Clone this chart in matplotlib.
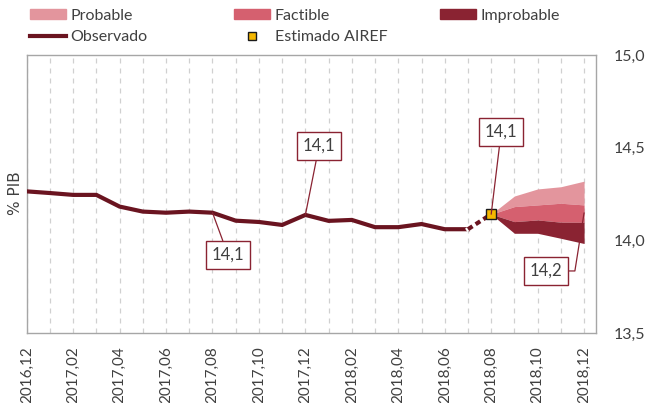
import numpy as np
import matplotlib
matplotlib.use('Agg')
import matplotlib.pyplot as plt
from matplotlib.patches import Patch
from matplotlib.lines import Line2D

plt.rcParams['font.family'] = ['Lato', 'DejaVu Sans']

## data
months = ['2016,12', '2017,01', '2017,02', '2017,03', '2017,04', '2017,05',
          '2017,06', '2017,07', '2017,08', '2017,09', '2017,10', '2017,11',
          '2017,12', '2018,01', '2018,02', '2018,03', '2018,04', '2018,05',
          '2018,06', '2018,07', '2018,08', '2018,09', '2018,10', '2018,11',
          '2018,12']
observado = [14.265, 14.256, 14.246, 14.246, 14.183, 14.156, 14.150, 14.156,
             14.150, 14.107, 14.100, 14.084, 14.138, 14.106, 14.111, 14.072,
             14.072, 14.089, 14.061, 14.061]
estimado = 14.142  # 2018,08
# fan bands, 2018,08 .. 2018,12 (boundaries from top to bottom)
fan_top = [14.142, 14.240, 14.278, 14.290, 14.320]
fan_b1 = [14.142, 14.183, 14.192, 14.201, 14.192]
fan_b2 = [14.142, 14.102, 14.111, 14.099, 14.098]
fan_bot = [14.142, 14.039, 14.039, 14.012, 13.984]
yticks = [13.5, 14.0, 14.5, 15.0]
ytick_labels = ['13,5', '14,0', '14,5', '15,0']

c_prob = '#E3959D'
c_fact = '#D5606F'
c_impr = '#8A2332'
c_obs = '#6A1420'
c_txt = '#404040'

fig = plt.figure(figsize=(6.46, 4.03), dpi=100)
ax = fig.add_axes([26.7/646, 1-333.3/403, (595.7-26.7)/646, (333.3-55)/403])

x = np.arange(len(months))
n_obs = len(observado)
xf = x[n_obs:n_obs+len(fan_top)]
xf = np.arange(n_obs, n_obs+len(fan_top)) - 0  # starts at 2018,08
xf = np.arange(len(months)-len(fan_top), len(months))

ax.fill_between(xf, fan_b1, fan_top, color=c_prob, lw=0, zorder=2)
ax.fill_between(xf, fan_b2, fan_b1, color=c_fact, lw=0, zorder=2)
ax.fill_between(xf, fan_bot, fan_b2, color=c_impr, lw=0, zorder=2)

ax.plot(x[:n_obs], observado, color=c_obs, lw=3, solid_joinstyle='miter', zorder=3)
# dotted link to estimate
ax.plot([n_obs-1, xf[0]], [observado[-1], estimado], color='white', lw=3, zorder=3)
ax.plot([n_obs-1, xf[0]], [observado[-1], estimado], color=c_obs, lw=3,
        dashes=(1.3, 0.9), zorder=3)
ax.plot([xf[0]], [estimado], marker='s', ms=7, mfc='#F5B700', mec='#1a1a1a',
        mew=1, ls='none', zorder=6)

ax.set_xlim(0, 24.5)
ax.set_ylim(13.5, 15.0)
ax.set_xticks(x[::2])
ax.set_xticklabels(months[::2], rotation=90, fontsize=11, color=c_txt)
ax.set_xticks(x, minor=True)
ax.tick_params(axis='x', which='both', length=0, pad=9)
ax.yaxis.tick_right()
ax.set_yticks(yticks)
ax.set_yticklabels(ytick_labels, fontsize=11.5, color=c_txt)
ax.tick_params(axis='y', length=0, pad=13)
ax.grid(axis='x', which='both', ls=(0, (4, 4)), color='#D0D0D0', lw=0.9)
ax.grid(axis='y', visible=False)
for s in ax.spines.values():
    s.set_color('#A6A6A6')
    s.set_linewidth(1)

fig.text(16/646, 1-193/403, '% PIB', rotation=90, ha='center', va='center',
         fontsize=11, color=c_txt, family='DejaVu Sans')

## annotations
box = dict(boxstyle='square,pad=0.35', fc='white', ec=c_impr, lw=1)
arr = dict(arrowstyle='-', color=c_impr, lw=0.9, shrinkA=0, shrinkB=0)
ax.annotate('14,1', xy=(8, observado[8]), xytext=(8.67, 13.922), ha='center',
            va='center', fontsize=12, color=c_txt, bbox=box, arrowprops=arr, zorder=7)
ax.annotate('14,1', xy=(12, observado[12]), xytext=(12.59, 14.510), ha='center',
            va='center', fontsize=12, color=c_txt, bbox=box, arrowprops=arr, zorder=7)
ax.annotate('14,1', xy=(xf[0], estimado), xytext=(20.43, 14.585), ha='center',
            va='center', fontsize=12, color=c_txt, bbox=box, arrowprops=arr, zorder=7)
arr4 = dict(arr, relpos=(1, 0.5), connectionstyle='angle,angleA=0,angleB=81,rad=0')
ax.annotate('14,2', xy=(24, 14.149), xytext=(22.36, 13.836), ha='center',
            va='center', fontsize=12, color=c_txt, bbox=box, arrowprops=arr4, zorder=7)

## legend, three columns placed by hand
lkw = dict(frameon=False, fontsize=11.5, handlelength=2.25, handleheight=0.6,
           handletextpad=0.3, borderpad=0, borderaxespad=0, labelspacing=0.45,
           loc='upper left', labelcolor=c_txt)
h_obs = Line2D([], [], color=c_obs, lw=3)
h_est = Line2D([], [], ls='none', marker='s', ms=6, mfc='#F5B700', mec='#1a1a1a')
fig.legend([Patch(color=c_prob), h_obs], ['Probable', 'Observado'],
           bbox_to_anchor=(30/646, 1-9/403), **lkw)
fig.legend([Patch(color=c_fact), h_est], ['Factible', 'Estimado AIREF'],
           bbox_to_anchor=(234/646, 1-9/403), **lkw)
fig.legend([Patch(color=c_impr)], ['Improbable'],
           bbox_to_anchor=(440/646, 1-9/403), **lkw)

fig.savefig('out.png', dpi=100)
